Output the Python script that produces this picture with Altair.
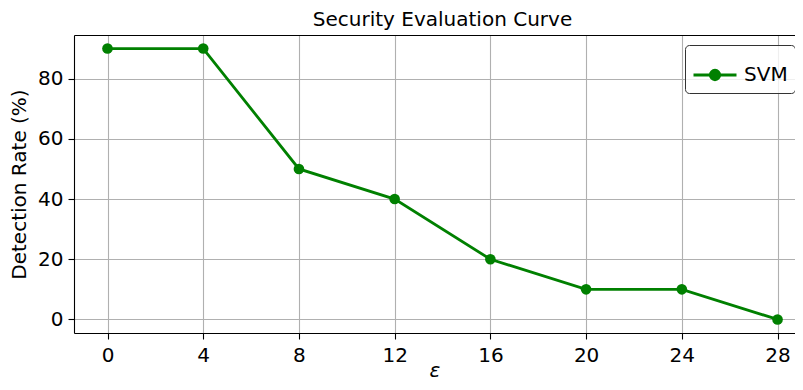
import altair as alt
import pandas as pd

# ---- data ----
eps = [0, 4, 8, 12, 16, 20, 24, 28]
rate = [90, 90, 50, 40, 20, 10, 10, 0]
series = ["SVM"] * len(eps)
x_ticks = [0, 4, 8, 12, 16, 20, 24, 28]
y_ticks = [0, 20, 40, 60, 80]

df = pd.DataFrame({"eps": eps, "rate": rate, "series": series})

FONT = "DejaVu Sans"
GREEN = "#008000"

xscale = alt.Scale(domain=[-1.4, 28.73], nice=False, zero=False)
yscale = alt.Scale(domain=[-4.5, 94.5], nice=False, zero=False)

yaxis = alt.Axis(values=y_ticks, title="Detection Rate (%)", labelPadding=5,
                 grid=True, titleX=-49, titleY=149, titleBaseline="alphabetic",
                 titleAlign="center", titleAngle=270)

legend_path = "M-1,0H1M0.22,0A0.22,0.22,0,1,1,-0.22,0A0.22,0.22,0,1,1,0.22,0Z"

base = alt.Chart(df)

line = base.mark_line(strokeWidth=2.8).encode(
    x=alt.X("eps:Q", scale=xscale,
            axis=alt.Axis(values=x_ticks, title="ε", titleFontStyle="italic",
                          labelPadding=6, titleY=43, titleBaseline="alphabetic",
                          grid=True)),
    y=alt.Y("rate:Q", scale=yscale, axis=yaxis),
    color=alt.Color("series:N",
                    scale=alt.Scale(domain=["SVM"], range=[GREEN]),
                    legend=alt.Legend(
                        title=None, orient="none", legendX=611, legendY=10,
                        padding=7, symbolSize=1849, symbolType=legend_path,
                        symbolStrokeWidth=2.8, symbolFillColor=GREEN,
                        symbolStrokeColor=GREEN, labelFont=FONT,
                        labelFontSize=20, labelOffset=6, labelColor="black",
                        strokeColor="#333333", fillColor="rgba(255,255,255,0.8)",
                        cornerRadius=4)),
)

points = base.mark_point(filled=True, size=113, color=GREEN, opacity=1,
                         strokeWidth=0).encode(
    x=alt.X("eps:Q", scale=xscale,
            axis=alt.Axis(orient="top", labels=False, ticks=False, grid=False,
                          title=None, domain=True)),
    y=alt.Y("rate:Q", scale=yscale, axis=yaxis),
)

chart = alt.layer(line, points).resolve_axis(x="independent").properties(
    width=721,
    height=298,
    autosize=alt.AutoSizeParams(type="none"),
    padding={"left": 66, "top": 27, "right": 0, "bottom": 49},
    title=alt.TitleParams("Security Evaluation Curve", dx=8, offset=5),
).configure_view(stroke=None).configure_axis(
    labelFont=FONT, labelFontSize=20, labelColor="black",
    titleFont=FONT, titleFontSize=20, titleFontWeight="normal", titleColor="black",
    domainColor="black", domainWidth=1.1, tickColor="black", tickWidth=1.1,
    tickSize=6, gridColor="#b0b0b0", gridWidth=1.1,
).configure_title(
    font=FONT, fontSize=20, fontWeight="normal", color="black", anchor="middle",
)

chart.save("out.html", embed_options={"renderer": "svg", "actions": False})
